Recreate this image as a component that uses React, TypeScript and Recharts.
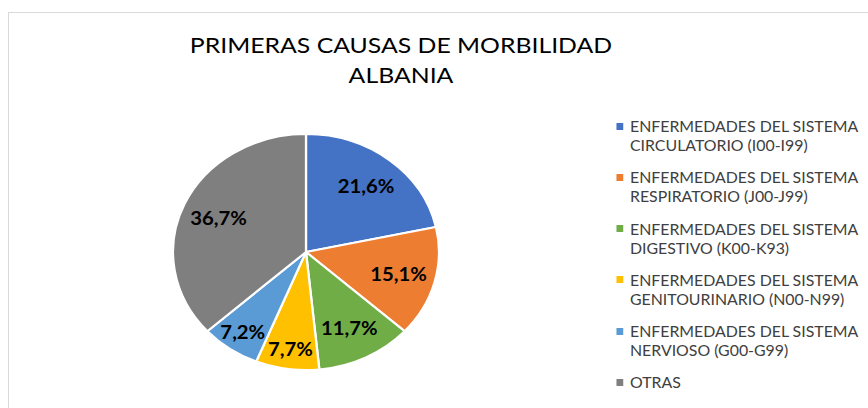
import { PieChart, Pie, Cell, Legend } from "recharts";

const categories = [
  "ENFERMEDADES DEL SISTEMA CIRCULATORIO (I00-I99)",
  "ENFERMEDADES DEL SISTEMA RESPIRATORIO (J00-J99)",
  "ENFERMEDADES DEL SISTEMA DIGESTIVO (K00-K93)",
  "ENFERMEDADES DEL SISTEMA GENITOURINARIO (N00-N99)",
  "ENFERMEDADES DEL SISTEMA NERVIOSO (G00-G99)",
  "OTRAS",
];
const shares = [21.6, 15.1, 11.7, 7.7, 7.2, 36.7];
const colors = ["#4472C4", "#ED7D31", "#70AD47", "#FFC000", "#5B9BD5", "#7F7F7F"];
const titleLines = ["PRIMERAS CAUSAS DE MORBILIDAD", "ALBANIA"];

const data = categories.map((name, i) => ({ name, value: shares[i] }));

// the source image is stretched sideways, so the chart is drawn narrow and scaled
const SX = 1.127;
const W = 868 / SX;
const H = 408;
const FONT = "Lato, 'Open Sans', sans-serif";
const RAD = Math.PI / 180;

function sliceLabel(p: any) {
  const { cx, cy, midAngle, outerRadius, value } = p;
  const r = outerRadius * (value < 10 ? 0.83 : 0.72);
  const x = cx + r * Math.cos(-midAngle * RAD);
  const y = cy + r * Math.sin(-midAngle * RAD);
  return (
    <text
      x={x}
      y={y}
      textAnchor="middle"
      dominantBaseline="central"
      fill="#000"
      fontSize={18}
      fontWeight={700}
      fontFamily={FONT}
    >
      {value.toFixed(1).replace(".", ",") + "%"}
    </text>
  );
}

function splitName(name: string) {
  const cut = name.indexOf("SISTEMA ");
  if (cut < 0) return [name];
  return [name.slice(0, cut + 7), name.slice(cut + 8)];
}

function LegendBox(props: any) {
  const items = [...(props.payload || [])].sort(
    (a: any, b: any) => categories.indexOf(a.value) - categories.indexOf(b.value)
  );
  return (
    <div style={{ fontFamily: FONT, fontSize: 16, color: "#404040" }}>
      {items.map((item: any, i: number) => (
        <div key={i} style={{ display: "flex", height: 51.3 }}>
          <div
            style={{
              width: 6.2,
              height: 7,
              background: item.color,
              marginTop: 6.5,
              marginRight: 6,
              flexShrink: 0,
            }}
          />
          <div
            style={{
              lineHeight: "19px",
              whiteSpace: "nowrap",
              transform: "scaleX(0.88)",
              transformOrigin: "0 0",
            }}
          >
            {splitName(item.value).map((line, j) => (
              <div key={j}>{line}</div>
            ))}
          </div>
        </div>
      ))}
    </div>
  );
}

export default function App() {
  return (
    <div
      style={{
        position: "absolute",
        left: 0,
        top: 0,
        width: 868,
        height: 408,
        overflow: "hidden",
        background: "#fff",
      }}
    >
      <div
        style={{
          position: "absolute",
          left: 8,
          top: 12,
          width: 900,
          height: 450,
          borderLeft: "1.5px solid #D9D9D9",
          borderTop: "1.5px solid #D9D9D9",
        }}
      />
      <div
        style={{
          position: "absolute",
          left: 0,
          top: 0,
          width: W,
          height: H,
          transform: `scaleX(${SX})`,
          transformOrigin: "0 0",
        }}
      >
        <div
          style={{
            position: "absolute",
            left: 0,
            top: 30,
            width: 2 * (401 / SX),
            textAlign: "center",
            fontFamily: FONT,
            fontSize: 22,
            lineHeight: "30px",
            color: "#000",
          }}
        >
          {titleLines.map((t, i) => (
            <div key={i}>{t}</div>
          ))}
        </div>
        <PieChart width={W} height={H} margin={{ top: 0, right: 0, bottom: 0, left: 0 }}>
          <Pie
            data={data}
            dataKey="value"
            nameKey="name"
            cx={306 / SX}
            cy={252}
            outerRadius={118}
            startAngle={90}
            endAngle={-270}
            stroke="#fff"
            strokeWidth={2}
            label={sliceLabel}
            labelLine={false}
            isAnimationActive={false}
          >
            {data.map((d, i) => (
              <Cell key={d.name} fill={colors[i]} />
            ))}
          </Pie>
          <Legend
            layout="vertical"
            align="right"
            verticalAlign="top"
            content={<LegendBox />}
            wrapperStyle={{ left: 616 / SX, top: 116, width: 260, right: "auto" }}
          />
        </PieChart>
      </div>
    </div>
  );
}
